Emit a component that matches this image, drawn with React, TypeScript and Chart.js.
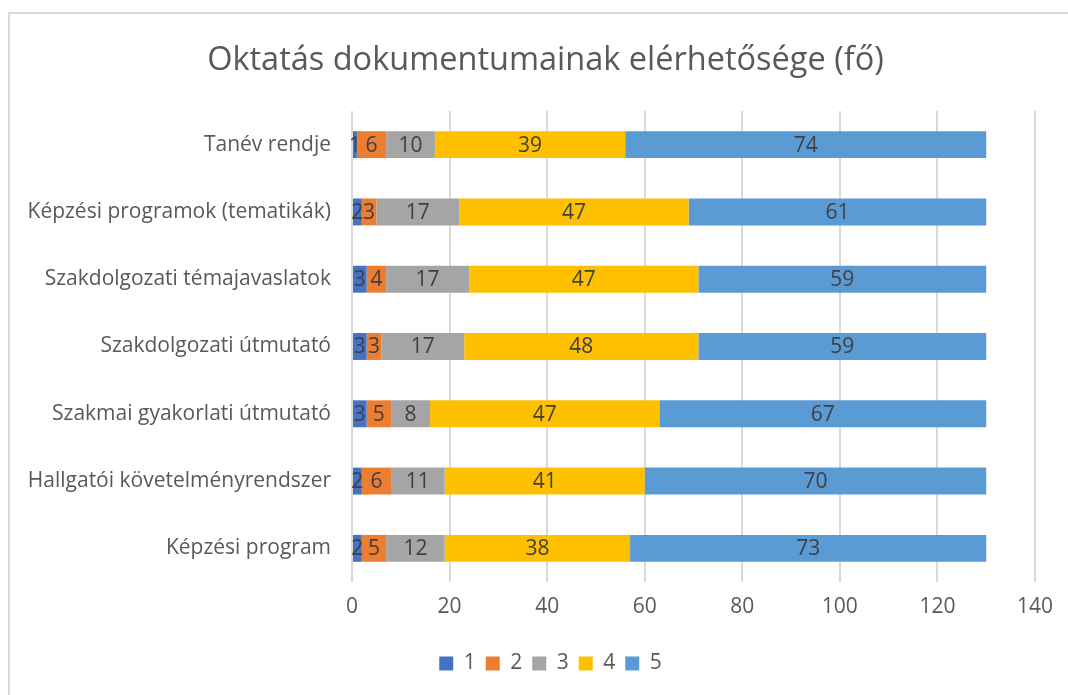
import React, { useEffect, useRef } from "react";
import { Chart, registerables } from "chart.js";

Chart.register(...registerables);

const titleText = "Oktatás dokumentumainak elérhetősége (fő)";
const categories = [
  "Tanév rendje",
  "Képzési programok (tematikák)",
  "Szakdolgozati témajavaslatok",
  "Szakdolgozati útmutató",
  "Szakmai gyakorlati útmutató",
  "Hallgatói követelményrendszer",
  "Képzési program",
];
const seriesNames = ["1", "2", "3", "4", "5"];
const series1 = [1, 2, 3, 3, 3, 2, 2];
const series2 = [6, 3, 4, 3, 5, 6, 5];
const series3 = [10, 17, 17, 17, 8, 11, 12];
const series4 = [39, 47, 47, 48, 47, 41, 38];
const series5 = [74, 61, 59, 59, 67, 70, 73];
const seriesColors = ["#4472C4", "#ED7D31", "#A5A5A5", "#FFC000", "#5B9BD5"];
const xMin = 0;
const xMax = 140;
const xStep = 20;

const FONT = "'Open Sans', 'Noto Sans', sans-serif";

const borderPlugin = {
  id: "outerBorder",
  beforeDraw(chart: any) {
    const ctx = chart.ctx;
    ctx.save();
    ctx.strokeStyle = "#d9d9d9";
    ctx.lineWidth = 2;
    ctx.beginPath();
    ctx.moveTo(9, chart.height + 2);
    ctx.lineTo(9, 13);
    ctx.lineTo(chart.width + 2, 13);
    ctx.stroke();
    ctx.restore();
  },
};

const shiftPlugin = {
  id: "shiftBoxes",
  afterLayout(chart: any) {
    if (chart.legend) chart.legend.left += 66;
    if (chart.titleBlock) chart.titleBlock.left += 56;
  },
};

const dataLabelPlugin = {
  id: "segmentLabels",
  afterDatasetsDraw(chart: any) {
    const ctx = chart.ctx;
    ctx.save();
    ctx.font = `21px ${FONT}`;
    ctx.fillStyle = "#404040";
    ctx.textAlign = "center";
    ctx.textBaseline = "middle";
    chart.data.datasets.forEach((ds: any, di: number) => {
      const meta = chart.getDatasetMeta(di);
      if (meta.hidden) return;
      meta.data.forEach((el: any, i: number) => {
        const v = ds.data[i];
        const cx = (el.x + el.base) / 2;
        ctx.fillText(String(v), cx, el.y + 1);
      });
    });
    ctx.restore();
  },
};

export default function App() {
  const canvasRef = useRef<HTMLCanvasElement | null>(null);

  useEffect(() => {
    if (!canvasRef.current) return;
    const values = [series1, series2, series3, series4, series5];
    const chart = new Chart(canvasRef.current, {
      type: "bar",
      data: {
        labels: categories,
        datasets: seriesNames.map((name, i) => ({
          label: name,
          data: values[i],
          backgroundColor: seriesColors[i],
          borderWidth: 0,
          barPercentage: 0.4,
          categoryPercentage: 1,
        })),
      },
      options: {
        indexAxis: "y",
        animation: false,
        responsive: false,
        maintainAspectRatio: false,
        layout: { padding: { left: 0, right: 33, top: 0, bottom: 11 } },
        scales: {
          x: {
            stacked: true,
            min: xMin,
            max: xMax,
            ticks: {
              stepSize: xStep,
              padding: 12,
              color: "#595959",
              font: { family: FONT, size: 21 },
            },
            grid: { color: "#d9d9d9", lineWidth: 2, drawTicks: false },
            border: { display: false },
            afterFit(scale: any) {
              scale.height = 61;
            },
          },
          y: {
            stacked: true,
            ticks: {
              padding: 21,
              color: "#595959",
              font: { family: FONT, size: 21 },
              autoSkip: false,
            },
            grid: { display: false, drawTicks: false },
            border: { display: false },
            afterFit(scale: any) {
              scale.width = 352;
            },
          },
        },
        plugins: {
          title: {
            display: true,
            text: titleText,
            color: "#595959",
            font: { family: FONT, size: 32.5, weight: "normal", lineHeight: 1.2 },
            padding: { top: 41, bottom: 31 },
          },
          legend: {
            position: "bottom",
            labels: {
              boxWidth: 14,
              boxHeight: 14,
              padding: 10,
              color: "#595959",
              font: { family: FONT, size: 21 },
            },
          },
          tooltip: { enabled: false },
        },
      },
      plugins: [borderPlugin, shiftPlugin, dataLabelPlugin],
    } as any);
    return () => chart.destroy();
  }, []);

  return (
    <div style={{ position: "absolute", left: 0, top: 0, width: 1068, height: 695, background: "#fff" }}>
      <canvas ref={canvasRef} width={1068} height={695} style={{ display: "block" }} />
    </div>
  );
}
